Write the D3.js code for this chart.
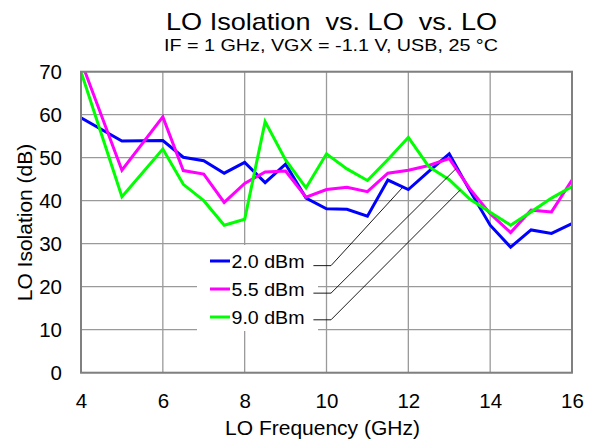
<!DOCTYPE html>
<html><head><meta charset="utf-8">
<script src="https://cdn.jsdelivr.net/npm/d3@7"></script>
<style>
html,body{margin:0;padding:0;background:#fff;}
svg{display:block;font-family:"Liberation Sans",Arial,sans-serif;}
</style></head>
<body>
<svg id="chart" width="595" height="442"></svg>
<script>
// ---- data ----
const freqs = [4,5,6,6.5,7,7.5,8,8.5,9,9.5,10,10.5,11,11.5,12,12.5,13,13.5,14,14.5,15,15.5,16];
const blue2dBm   = [59.3,53.9,54.0,50.1,49.3,46.4,48.9,44.2,48.5,40.6,38.1,38.0,36.4,44.8,42.6,46.8,50.9,42.4,34.3,29.2,33.2,32.4,34.7];
const mag55dBm   = [72.5,47.1,59.5,47.0,46.2,39.6,44.0,46.7,46.9,40.8,42.6,43.1,42.1,46.4,47.1,48.2,49.8,42.8,37.0,32.6,37.8,37.4,44.8];
const green9dBm  = [70.0,40.9,52.0,43.8,40.0,34.3,35.7,58.4,49.5,43.0,50.9,47.4,44.7,49.6,54.7,47.9,44.9,40.4,37.3,34.3,37.4,40.6,43.3];
const seriesNames = ["2.0 dBm","5.5 dBm","9.0 dBm"];
const seriesColors = ["#0000ff","#ff00ff","#00ff00"];
const xTicks = [4,6,8,10,12,14,16];
const yTicks = [0,10,20,30,40,50,60,70];
// leader lines (data units): [start, knee, end]
const leaders = [
  [[9.68,24.9],[10.11,24.9],[11.88,43.3]],
  [[9.68,18.5],[10.11,18.5],[13.17,47.5]],
  [[9.68,12.3],[10.11,12.3],[13.27,42.5]]
];
const titleText = "LO Isolation  vs. LO  vs. LO";
const subtitleText = "IF = 1 GHz, VGX = -1.1 V, USB, 25 °C";
const xTitle = "LO Frequency (GHz)";
const yTitle = "LO Isolation (dB)";

// ---- layout ----
const svg = d3.select("#chart");
const L = 81, R = 572, T = 71.7, B = 372.7;
const x = d3.scaleLinear().domain([4,16]).range([L,R]);
const y = d3.scaleLinear().domain([0,70]).range([B,T]);

svg.append("defs").append("clipPath").attr("id","plotclip")
  .append("rect").attr("x",L).attr("y",T).attr("width",R-L).attr("height",B-T);

// gridlines
const grid = svg.append("g");
grid.selectAll("line.v").data(xTicks).join("line")
  .attr("x1",d=>x(d)).attr("x2",d=>x(d)).attr("y1",T).attr("y2",B)
  .attr("stroke","#9a9a9a").attr("stroke-width",1.3);
grid.selectAll("line.h").data(yTicks).join("line")
  .attr("y1",d=>y(d)).attr("y2",d=>y(d)).attr("x1",L).attr("x2",R)
  .attr("stroke","#9a9a9a").attr("stroke-width",1.3);

// legend background
svg.append("rect").attr("x",197).attr("y",245).attr("width",121).attr("height",86).attr("fill","#fff");

// lines
const allSeries = [blue2dBm, mag55dBm, green9dBm];
const line = d3.line().x((d,i)=>x(freqs[i])).y(d=>y(d));
const lg = svg.append("g").attr("clip-path","url(#plotclip)");
allSeries.forEach((s,k)=>{
  lg.append("path").datum(s).attr("d",line).attr("fill","none")
    .attr("stroke",seriesColors[k]).attr("stroke-width",3).attr("stroke-linejoin","miter");
});

// frame
svg.append("rect").attr("x",L).attr("y",T).attr("width",R-L).attr("height",B-T)
  .attr("fill","none").attr("stroke","#808080").attr("stroke-width",2);

// leader lines
const ll = d3.line().x(d=>x(d[0])).y(d=>y(d[1]));
leaders.forEach(p=>{
  svg.append("path").attr("d",ll(p)).attr("fill","none").attr("stroke","#000").attr("stroke-width",0.9);
});

// legend
seriesNames.forEach((n,k)=>{
  const cy = 261 + k*28;
  svg.append("line").attr("x1",210).attr("x2",230).attr("y1",cy).attr("y2",cy)
    .attr("stroke",seriesColors[k]).attr("stroke-width",3);
  svg.append("text").attr("x",231.5).attr("y",cy+6.8).attr("font-size",19).attr("fill","#000")
    .attr("textLength",73).attr("lengthAdjust","spacingAndGlyphs").text(n);
});

// axes tick labels
const xAxis = d3.axisBottom(x).tickValues(xTicks).tickSize(0).tickPadding(0).tickFormat(d3.format("d"));
const gx = svg.append("g").attr("transform",`translate(0,${B})`).call(xAxis);
gx.select(".domain").remove();
gx.selectAll("text").attr("font-size",20.5).attr("font-family","Liberation Sans, Arial, sans-serif")
  .attr("fill","#000").attr("dy",null).attr("y",35.5);

const yAxis = d3.axisLeft(y).tickValues(yTicks).tickSize(0).tickPadding(0).tickFormat(d3.format("d"));
const gy = svg.append("g").attr("transform",`translate(${L},0)`).call(yAxis);
gy.select(".domain").remove();
gy.selectAll("text").attr("font-size",20.5).attr("font-family","Liberation Sans, Arial, sans-serif")
  .attr("fill","#000").attr("x",-19).attr("dy","0.35em");

// titles
svg.append("text").attr("x",166).attr("y",30).attr("text-anchor","start")
  .attr("font-size",24).attr("textLength",331).attr("lengthAdjust","spacingAndGlyphs")
  .style("white-space","pre").text(titleText);
svg.append("text").attr("x",164).attr("y",51).attr("text-anchor","start")
  .attr("font-size",16.5).attr("textLength",334).attr("lengthAdjust","spacingAndGlyphs").text(subtitleText);
svg.append("text").attr("x",322.5).attr("y",435).attr("text-anchor","middle")
  .attr("font-size",21).text(xTitle);
svg.append("text").attr("transform","translate(32,222.5) rotate(-90)").attr("text-anchor","middle")
  .attr("font-size",21).text(yTitle);
</script>
</body></html>
